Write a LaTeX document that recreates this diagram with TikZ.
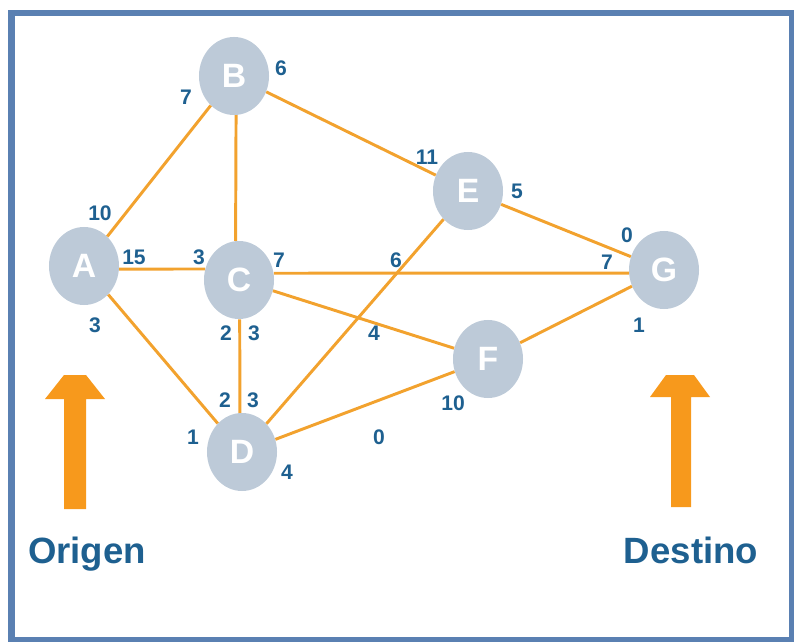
\documentclass[tikz,border=0pt]{standalone}
\usepackage{fontspec}
\setmainfont{Liberation Sans}
\usepackage{tikz}
\usetikzlibrary{shapes.geometric}
\definecolor{frameblue}{RGB}{90,128,178}
\definecolor{nodegray}{RGB}{189,202,216}
\definecolor{edgeorange}{RGB}{242,162,46}
\definecolor{arroworange}{RGB}{247,153,28}
\definecolor{labelblue}{RGB}{30,96,144}

\begin{document}
\begin{tikzpicture}[
    x=0.025cm, y=-0.025cm,
    vertex/.style={ellipse, fill=nodegray, minimum width=1.75cm, minimum height=1.95cm,
                   inner sep=0pt, text=white, font=\fontsize{24}{24}\selectfont\bfseries},
    edge/.style={draw=edgeorange, line width=2.1pt},
    weight/.style={text=labelblue, inner sep=0pt, font=\fontsize{15}{15}\selectfont\bfseries},
    tag/.style={text=labelblue, inner sep=0pt, anchor=base, font=\fontsize{26}{26}\selectfont\bfseries},
    bigarrow/.style={fill=arroworange}
]
    \useasboundingbox (0,0) rectangle (794,642);
    \draw[frameblue, line width=0.15cm] (11.5,13) rectangle (792,640);

    % vertices
    \node[vertex] (A) at (84,266) {A};
    \node[vertex] (B) at (234,76) {B};
    \node[vertex] (C) at (239,280) {C};
    \node[vertex] (D) at (242,452) {D};
    \node[vertex] (E) at (468,191) {E};
    \node[vertex] (F) at (488,359) {F};
    \node[vertex] (G) at (664,270) {G};

    % edges (the straight ones leave C off-centre)
    \draw[edge] (A) -- (B);
    \draw[edge] (A.-5) -- (C.162);
    \draw[edge] (A) -- (D);
    \draw[edge] (B.-87) -- (C.95);
    \draw[edge] (B) -- (E);
    \draw[edge] (C.11) -- (G.185);
    \draw[edge] (C) -- (F);
    \draw[edge] (C.-89) -- (D.93);
    \draw[edge] (D) -- (E);
    \draw[edge] (D) -- (F);
    \draw[edge] (E) -- (G);
    \draw[edge] (F) -- (G);

    % weights at the ends of the edges
    \node[weight] (wBA) at (186,97) {7};
    \node[weight] (wBE) at (281,68) {6};
    \node[weight] (wAB) at (100,213) {10};
    \node[weight] (wAC) at (134,257) {15};
    \node[weight] (wCA) at (199,257) {3};
    \node[weight] (wCG) at (279,260) {7};
    \node[weight] (wGC6) at (396,260) {6};
    \node[weight] (wEB) at (427,157) {11};
    \node[weight] (wEG) at (517,191) {5};
    \node[weight] (wGE) at (627,235) {0};
    \node[weight] (wGC) at (607,262) {7};
    \node[weight] (wGF) at (639,325) {1};
    \node[weight] (wAD) at (95,325) {3};
    \node[weight] (wCD1) at (226,333) {2};
    \node[weight] (wCD2) at (254,333) {3};
    \node[weight] (wCF) at (374,333) {4};
    \node[weight] (wDC1) at (225,400) {2};
    \node[weight] (wDC2) at (253,400) {3};
    \node[weight] (wDA) at (193,437) {1};
    \node[weight] (wDF) at (379,437) {0};
    \node[weight] (wFD) at (453,403) {10};
    \node[weight] (wDE) at (287,472) {4};

    % start and end markers
    \fill[bigarrow] (64,509) -- (64,399) -- (45,399) -- (64,375) -- (86,375)
        -- (105,399) -- (86,399) -- (86,509) -- cycle;
    \fill[bigarrow] (671,507) -- (671,397) -- (650,397) -- (666,375) -- (694,375)
        -- (710,397) -- (691,397) -- (691,507) -- cycle;
    \node[tag] (origen) at (87,563) {Origen};
    \node[tag] (destino) at (691,563) {Destino};
\end{tikzpicture}
\end{document}
